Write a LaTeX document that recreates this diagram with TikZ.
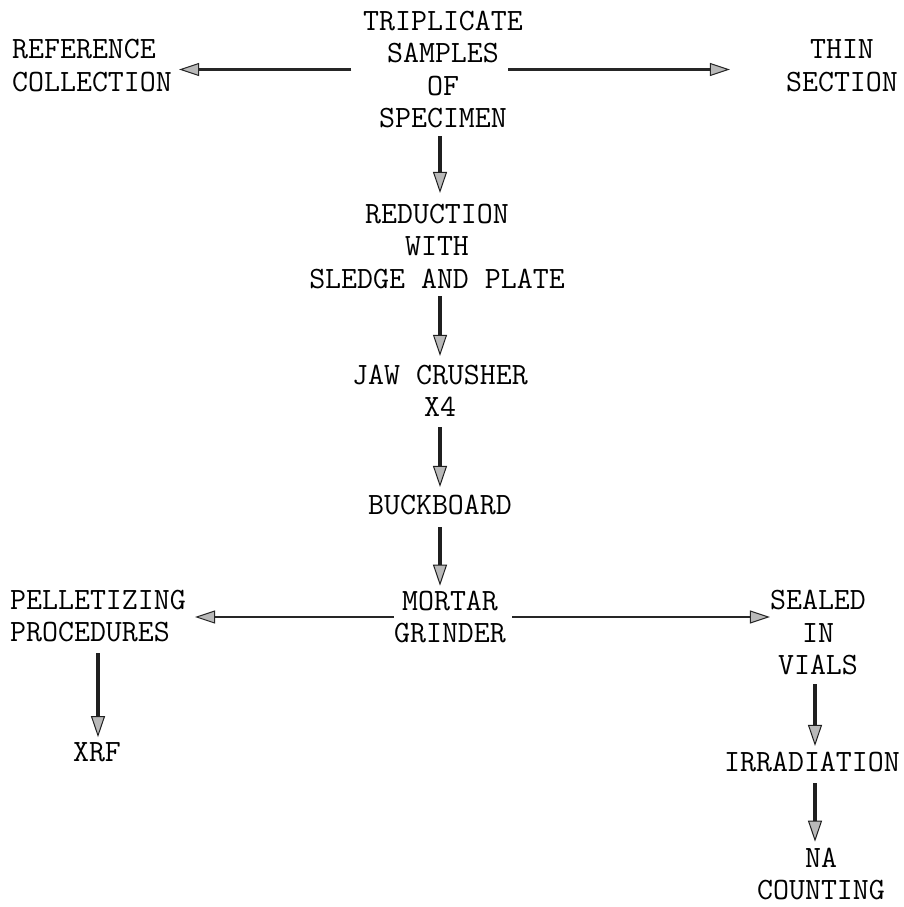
\documentclass[tikz,border=0pt]{standalone}
\usetikzlibrary{arrows.meta,calc}
\begin{document}
\begin{tikzpicture}[x=1pt,y=-1pt,
  lbl/.style={font=\ttfamily\fontsize{31}{32.5}\selectfont, inner sep=0pt, text=black},
  flow/.style={draw=black!88, line width=3.4pt, -{Triangle[length=21pt,width=14pt,line width=1pt,fill=gray!55]}},
  side/.style={draw=black!85, line width=2pt, -{Triangle[length=20pt,width=13pt,line width=1pt,fill=gray!55]}}]
\useasboundingbox (0,0) rectangle (904,907);
\fill[white] (0,0) rectangle (904,907);

\node[lbl,align=center] (trip) at (443,69.5) {TRIPLICATE\\SAMPLES\\OF\\SPECIMEN};
\node[lbl,align=left,anchor=west] (ref) at (12,65.5) {REFERENCE\\COLLECTION};
\node[lbl,align=center] (thin) at (842,65.5) {THIN\\SECTION};
\node[lbl,align=center] (red) at (437,246.5) {REDUCTION\\WITH\\SLEDGE AND PLATE};
\node[lbl,align=center] (jaw) at (440,391) {JAW CRUSHER\\X4};
\node[lbl] (buck) at (440,505) {BUCKBOARD};
\node[lbl,align=center] (mort) at (450,617) {MORTAR\\GRINDER};
\node[lbl,align=left,anchor=west] (pell) at (10,616) {PELLETIZING\\PROCEDURES};
\node[lbl] (xrf) at (97,752) {XRF};
\node[lbl,align=center] (seal) at (818,632.5) {SEALED\\IN\\VIALS};
\node[lbl] (irr) at (812,762) {IRRADIATION};
\node[lbl,align=center] (na) at (821,874) {NA\\COUNTING};

\coordinate (colx) at (440,0);
\coordinate (pcol) at (98,0);
\coordinate (scol) at (815,0);

\draw[side] ([xshift=-11.6pt]trip.west) -- ($(trip.west -| ref.east)+(7,0)$);
\draw[side] ([xshift=-15pt]trip.east) -- ($(trip.east -| thin.west)+(-56,0)$);
\draw[side] (mort.west) -- ($(mort.west -| pell.east)+(9,0)$);
\draw[side] ([xshift=6pt]mort.east) -- (mort.east -| seal.west);

\draw[flow] ($(trip.south -| colx)+(0,8)$) -- ($(red.north -| colx)+(0,-11)$);
\draw[flow] ($(red.south -| colx)+(0,7)$) -- ($(jaw.north -| colx)+(0,-9)$);
\draw[flow] ($(jaw.south -| colx)+(0,10)$) -- ($(buck.north -| colx)+(0,-8)$);
\draw[flow] ($(buck.south -| colx)+(0,12)$) -- ($(mort.north -| colx)+(0,-5)$);
\draw[flow] ($(pell.south -| pcol)+(0,11)$) -- ($(xrf.north -| pcol)+(0,-5)$);
\draw[flow] ($(seal.south -| scol)+(0,9)$) -- ($(irr.north -| scol)+(0,-6)$);
\draw[flow] ($(irr.south -| scol)+(0,11)$) -- ($(na.north -| scol)+(0,-6)$);
\end{tikzpicture}
\end{document}
